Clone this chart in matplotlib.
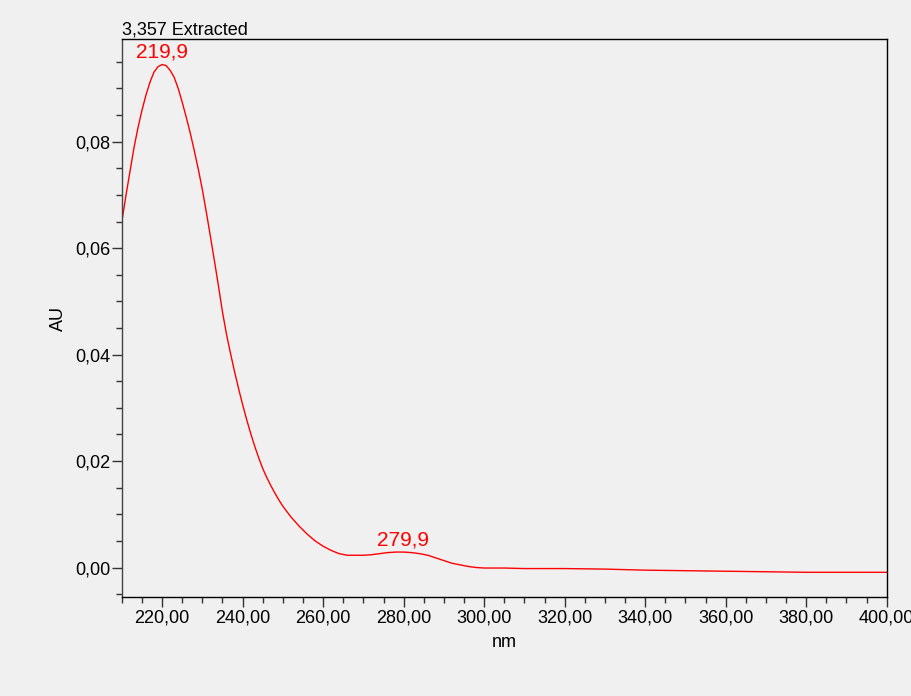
import numpy as np
import matplotlib
matplotlib.use("Agg")
import matplotlib.pyplot as plt
from matplotlib.ticker import MultipleLocator, FuncFormatter

plt.rcParams['font.family'] = ['Liberation Sans', 'DejaVu Sans']

# UV spectrum extracted at 3,357 min
wavelength_nm = [210, 211, 212, 213, 214, 215, 216, 217, 218, 219,
                 220, 221, 222, 223, 224, 225, 226, 227, 228, 229,
                 230, 231, 232, 233, 234, 235, 236, 237, 238, 239,
                 240, 241, 242, 243, 244, 245, 246, 247, 248, 249,
                 250, 252, 254, 256, 258, 260, 262, 264, 266, 268,
                 270, 272, 274, 276, 278, 280, 282, 284, 286, 288,
                 290, 292, 294, 296, 298, 300, 305, 310, 320, 330,
                 340, 350, 360, 370, 380, 390, 400]
absorbance_au = [0.0650, 0.0698, 0.0743, 0.0788, 0.0826, 0.0859, 0.0888, 0.0912, 0.0931, 0.0941,
                 0.0945, 0.0943, 0.0934, 0.0921, 0.0900, 0.0874, 0.0846, 0.0816, 0.0783, 0.0748,
                 0.0710, 0.0667, 0.0622, 0.0576, 0.0529, 0.0480, 0.0438, 0.0402, 0.0368, 0.0336,
                 0.0306, 0.0278, 0.0252, 0.0228, 0.0206, 0.0186, 0.0169, 0.0154, 0.0140, 0.0127,
                 0.0115, 0.0095, 0.0078, 0.0063, 0.0050, 0.0040, 0.0032, 0.0026, 0.0023, 0.0023,
                 0.0023, 0.0024, 0.0026, 0.0028, 0.0029, 0.0029, 0.0028, 0.0026, 0.0023, 0.0018,
                 0.0013, 0.0008, 0.0005, 0.0002, 0.0000, -0.0001, -0.0001, -0.0002, -0.0002, -0.0003,
                 -0.0005, -0.0006, -0.0007, -0.0008, -0.0009, -0.0009, -0.0009]

peak_nm = [219.9, 279.9]
peak_labels = ["219,9", "279,9"]
title_text = "3,357 Extracted"

bg = "#f0f0f0"
fig = plt.figure(figsize=(9.12, 6.96), dpi=100, facecolor=bg)
ax = fig.add_axes([0.1336, 0.1418, 0.8387, 0.8022], facecolor=bg)

ax.plot(wavelength_nm, absorbance_au, color="#ff0000", lw=1.0)

for nm, lab in zip(peak_nm, peak_labels):
    y = np.interp(nm, wavelength_nm, absorbance_au)
    ax.annotate(lab, xy=(nm, y), xytext=(0, 2), textcoords="offset points",
                ha="center", va="bottom", color="#ff0000", fontsize=15)

ax.set_xlim(210, 400)
ax.set_ylim(-0.0056, 0.0993)

ax.xaxis.set_major_locator(MultipleLocator(20))
ax.xaxis.set_minor_locator(MultipleLocator(5))
ax.yaxis.set_major_locator(MultipleLocator(0.02))
ax.yaxis.set_minor_locator(MultipleLocator(0.005))
ax.xaxis.set_major_formatter(FuncFormatter(lambda v, p: f"{v:.2f}".replace(".", ",")))
ax.yaxis.set_major_formatter(FuncFormatter(lambda v, p: f"{v:.2f}".replace(".", ",")))

ax.tick_params(which="major", length=7, width=1, labelsize=13, color="#333333")
ax.tick_params(which="minor", length=4, width=1, color="#333333")
ax.tick_params(axis="y", which="major", pad=1)
ax.tick_params(axis="x", which="major", pad=2)

for s in ax.spines.values():
    s.set_color("black")
    s.set_linewidth(1.0)
ax.spines["left"].set_color("#444444")

ax.set_ylabel("AU", fontsize=13)
ax.yaxis.set_label_coords(-0.072, 0.5)
ax.set_xlabel("nm", fontsize=13)
ax.xaxis.set_label_coords(0.5, -0.065)

ax.annotate(title_text, xy=(0, 1), xycoords="axes fraction", xytext=(0, 0.5),
            textcoords="offset points", ha="left", va="bottom", fontsize=13)

fig.savefig("out.png", dpi=100, facecolor=bg)
